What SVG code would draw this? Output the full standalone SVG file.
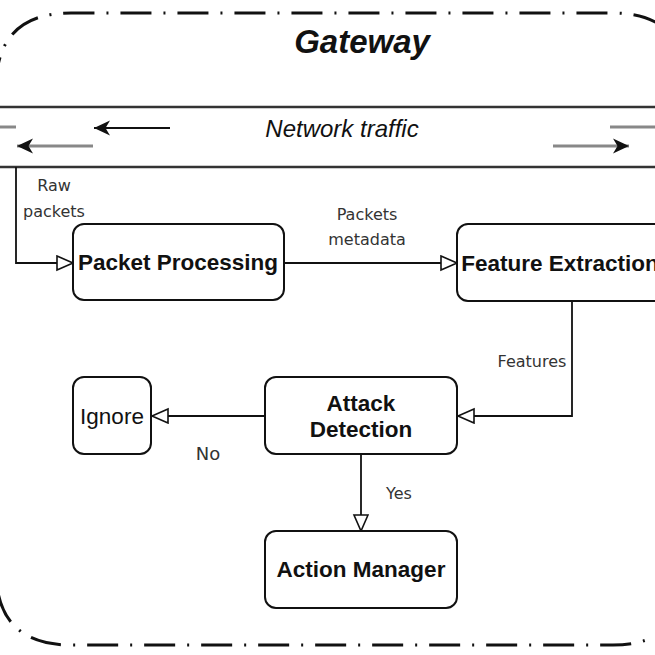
<svg xmlns="http://www.w3.org/2000/svg" width="655" height="655" viewBox="0 0 655 655">
<style>
.box{fill:#fff;stroke:#111;stroke-width:2}
.nt{font-family:"Liberation Sans",Arial,sans-serif;font-size:22.5px;font-weight:bold;fill:#111;text-anchor:middle}
.nn{font-weight:normal}
.lbl{font-family:"DejaVu Sans",sans-serif;font-size:16px;fill:#333;text-anchor:middle}
.con{fill:none;stroke:#111;stroke-width:1.8}
.band{fill:none;stroke:#333;stroke-width:2.5}
.grey{fill:none;stroke:#888;stroke-width:3}
</style>
<defs>
<marker id="open" markerUnits="userSpaceOnUse" markerWidth="20" markerHeight="20" refX="17" refY="8" orient="auto">
<path d="M1,1 L17,8 L1,15 Z" fill="#fff" stroke="#111" stroke-width="1.6"/>
</marker>
<marker id="solid" markerUnits="userSpaceOnUse" markerWidth="20" markerHeight="20" refX="16" refY="8" orient="auto">
<path d="M0,0.5 L16,8 L0,15.5 L4.5,8 Z" fill="#111"/>
</marker>
</defs>
<rect width="655" height="655" fill="#fff"/>
<g id="gateway">
<path d="M-4,88 Q-4,13 71,13 L613,13 Q686,13 686,86 L686,572 Q686,645 613,645 L71,645 Q-4,645 -4,570 Z" fill="none" stroke="#111" stroke-width="3" stroke-dasharray="31 12 2 12"/>
<text x="362" y="53" font-family="Liberation Sans,Arial,sans-serif" font-size="33" font-weight="bold" font-style="italic" text-anchor="middle" fill="#111">Gateway</text>
</g>
<g id="network-traffic">
<line class="band" x1="0" y1="107" x2="655" y2="107"/>
<line class="band" x1="0" y1="167" x2="655" y2="167"/>
<text x="342" y="137" font-family="Liberation Sans,Arial,sans-serif" font-size="24" font-style="italic" text-anchor="middle" fill="#111">Network traffic</text>
<line class="grey" x1="0" y1="127" x2="16" y2="127"/>
<line x1="170" y1="128" x2="94" y2="128" stroke="#111" stroke-width="2" marker-end="url(#solid)"/>
<line class="grey" x1="93" y1="146" x2="17" y2="146" marker-end="url(#solid)"/>
<line class="grey" x1="610" y1="127" x2="655" y2="127"/>
<line class="grey" x1="553" y1="146" x2="629" y2="146" marker-end="url(#solid)"/>
</g>
<g id="connectors">
<path class="con" d="M16,167 V263 H73" marker-end="url(#open)"/>
<path class="con" d="M284,263 H457" marker-end="url(#open)"/>
<path class="con" d="M572,301 V416 H458" marker-end="url(#open)"/>
<path class="con" d="M265,416 H152" marker-end="url(#open)"/>
<path class="con" d="M361,454 V531" marker-end="url(#open)"/>
<text class="lbl" x="54" y="191">Raw</text>
<text class="lbl" x="54" y="217">packets</text>
<text class="lbl" x="367" y="220">Packets</text>
<text class="lbl" x="367" y="245">metadata</text>
<text class="lbl" x="532" y="367">Features</text>
<text class="lbl" x="208" y="460" style="font-size:18px">No</text>
<text class="lbl" x="399" y="499">Yes</text>
</g>
<g id="packet-processing">
<rect class="box" x="73" y="224" width="211" height="76" rx="11"/>
<text class="nt" x="178" y="270">Packet Processing</text>
</g>
<g id="feature-extraction">
<rect class="box" x="457" y="224" width="211" height="77" rx="11"/>
<text class="nt" x="560" y="271">Feature Extraction</text>
</g>
<g id="attack-detection">
<rect class="box" x="265" y="377" width="192" height="77" rx="11"/>
<text class="nt" x="361" y="411">Attack</text>
<text class="nt" x="361" y="437">Detection</text>
</g>
<g id="ignore">
<rect class="box" x="73" y="377" width="78" height="77" rx="11"/>
<text class="nt nn" x="112" y="424">Ignore</text>
</g>
<g id="action-manager">
<rect class="box" x="265" y="531" width="192" height="77" rx="11"/>
<text class="nt" x="361" y="577">Action Manager</text>
</g>
</svg>
